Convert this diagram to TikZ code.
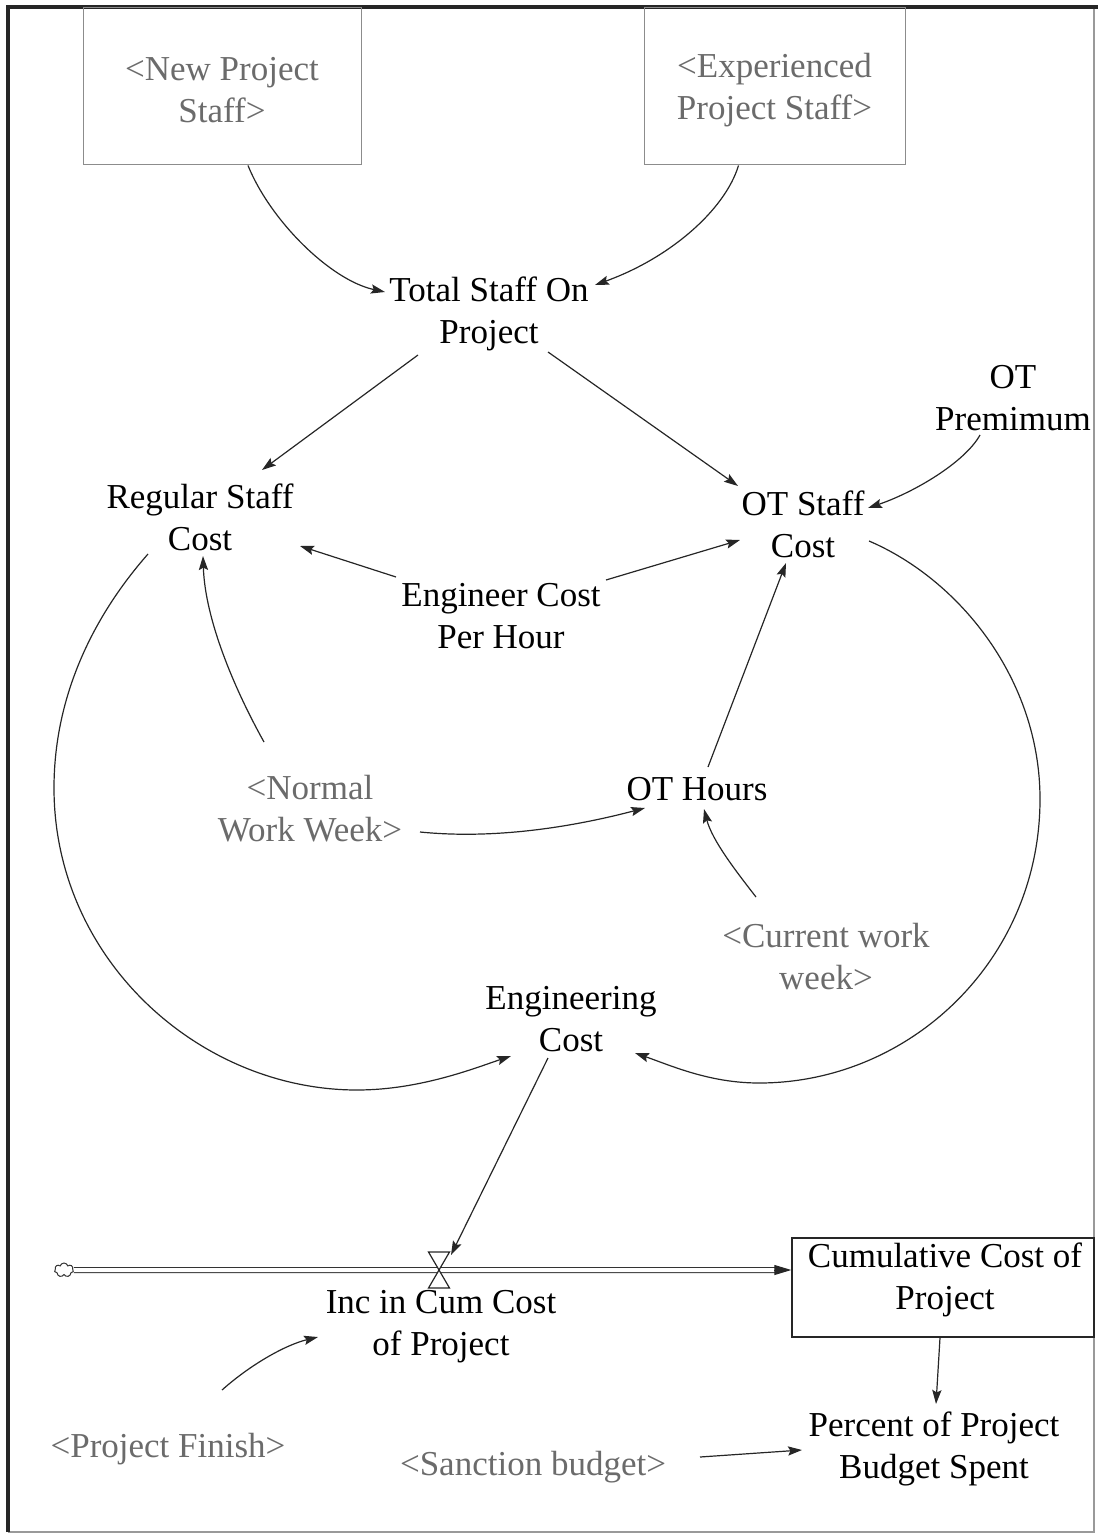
\documentclass[tikz,border=0pt]{standalone}
\usepackage{fontspec}
\setmainfont{Liberation Serif}
\usetikzlibrary{arrows.meta,calc,shapes.symbols}
% invisible strut on the first line of a two-line label, so that the text sits a little lower
\newcommand{\tallstrut}{\rule{0pt}{15.5pt}}
\begin{document}
\begin{tikzpicture}[x=0.5pt,y=-0.5pt,
  lbl/.style={font=\fontsize{17.5}{21}\selectfont, align=center, inner sep=1pt},
  shadow/.style={lbl, text=black!58},
  shadowbox/.style={shadow, draw=black!45, line width=0.5pt, minimum height=78.5pt},
  stockbox/.style={draw=black!85, line width=0.7pt, minimum width=151pt, minimum height=49.5pt, inner sep=0pt},
  link/.style={draw=black!85, line width=0.6pt, -{Stealth[length=7pt,width=4.6pt,inset=1.2pt]}},
  pipe/.style={draw=black!80, double=white, double distance=2pt, line width=0.5pt},
  pipetip/.style={-{Triangle[length=8.5pt,width=5pt]}, line width=0.5pt, draw=black!85},
  valveshape/.style={draw=black!85, fill=white, line width=0.6pt, line join=miter},
]
\useasboundingbox (0,0) rectangle (1098,1534);

% frame
\draw[black!40, line width=0.6pt] (1094,7) -- (1094,1532) -- (8,1532);
\draw[black!85, line width=2pt] (8,1532) -- (8,7) -- (1098,7);

% shadow variables in boxes
\node[shadowbox, minimum width=139pt] (nps) at (222,86.5) {\tallstrut<New Project\\Staff>};
\node[shadowbox, minimum width=130.5pt] (eps) at (774.5,86.5) {\tallstrut<Experienced\\Project Staff>};

% auxiliaries
\node[lbl] (tsp) at (489,311) {\tallstrut Total Staff On\\Project};
\node[lbl] (otp) at (1013,394) {\tallstrut OT\\Premimum};
\node[lbl] (rsc) at (200,514) {\tallstrut Regular Staff\\Cost};
\node[lbl] (osc) at (803,521) {\tallstrut OT Staff\\Cost};
\node[lbl] (ecph) at (501,612) {\tallstrut Engineer Cost\\Per Hour};
\node[shadow] (nww) at (310,805) {\tallstrut<Normal\\Work Week>};
\node[lbl] (oth) at (697,789) {OT Hours};
\node[shadow] (cww) at (826,953) {\tallstrut<Current work\\week>};
\node[lbl] (engc) at (571,1015) {\tallstrut Engineering\\Cost};
\node[lbl] (inc) at (441,1323) {\tallstrut Inc in Cum Cost\\of Project};
\node[shadow] (pf) at (168,1449) {<Project Finish>};
\node[shadow] (sb) at (533,1467) {<Sanction budget>};
\node[lbl] (pbs) at (934,1446) {\tallstrut Percent of Project\\Budget Spent};

% stock
\node[stockbox] (cum) at (943,1287.5) {};
\node[lbl] (cumlbl) at ($(cum)+(2,-7.5)$) {Cumulative Cost of\\Project};

% source cloud, flow pipe and valve
\node[cloud, draw=black!80, line width=0.5pt, cloud puffs=7, aspect=1.3,
      minimum width=9.5pt, minimum height=7pt, inner sep=0pt] (src) at (64,1270) {};
\coordinate (valve) at (439,1270);
\draw[pipe] (src.east) -- ($(cum.west)+(-16,-17.5)$);
\draw[pipetip] ($(cum.west)+(-17,-17.5)$) -- ($(cum.west)+(0,-17.5)$);
\draw[valveshape] ($(valve)+(-10.5,-18)$) -- ($(valve)+(10.5,-18)$)
   -- ($(valve)+(-10.5,18)$) -- ($(valve)+(10.5,18)$) -- cycle;

% causal links
\draw[link] ($(nps.south)+(26,0)$) .. controls (270,220) and (330,280) .. ($(tsp)+(-104,-19)$);
\draw[link] ($(eps.south)+(-36,0)$) .. controls (725,210) and (670,258) .. ($(tsp)+(106,-26)$);
\draw[link] ($(tsp)+(-71,44)$) -- ($(rsc)+(62,-44)$);
\draw[link] ($(tsp)+(59,41)$) -- ($(osc)+(-65,-35)$);
\draw[link] ($(otp)+(-33,41)$) .. controls (965,462) and (915,492) .. ($(osc)+(65,-13)$);
\draw[link] ($(ecph)+(-105,-35)$) -- ($(rsc)+(100,32)$);
\draw[link] ($(ecph)+(105,-32)$) -- ($(osc)+(-63,19)$);
\draw[link] ($(nww)+(-46,-63)$) .. controls (235,690) and (205,620) .. ($(rsc)+(3,42)$);
\draw[link] ($(nww)+(110,27)$) .. controls (500,840) and (580,825) .. ($(oth)+(-52,19)$);
\draw[link] ($(oth)+(11,-22)$) -- ($(osc)+(-17,42)$);
\draw[link] ($(cww)+(-70,-56)$) .. controls (735,870) and (712,840) .. ($(oth)+(7,20)$);
\draw[link] ($(rsc)+(-52,40)$) .. controls (90,620) and (54,700) .. (54,788)
   .. controls (54,960) and (200,1090) .. (357,1090)
   .. controls (420,1090) and (475,1068) .. ($(engc)+(-60,41)$);
\draw[link] ($(osc)+(66,20)$) .. controls (960,580) and (1040,680) .. (1040,799)
   .. controls (1040,960) and (910,1083) .. (759,1083)
   .. controls (710,1083) and (672,1066) .. ($(engc)+(64,38)$);
\draw[link] ($(engc)+(-23,43)$) -- ($(valve)+(12,-15)$);
\draw[link] ($(pf)+(54,-59)$) .. controls (250,1365) and (285,1345) .. ($(inc)+(-123,14)$);
\draw[link] ($(cum.south)+(-3,0)$) -- ($(pbs)+(2,-42)$);
\draw[link] ($(sb)+(167,-10)$) -- ($(pbs)+(-132,4)$);
\end{tikzpicture}
\end{document}
